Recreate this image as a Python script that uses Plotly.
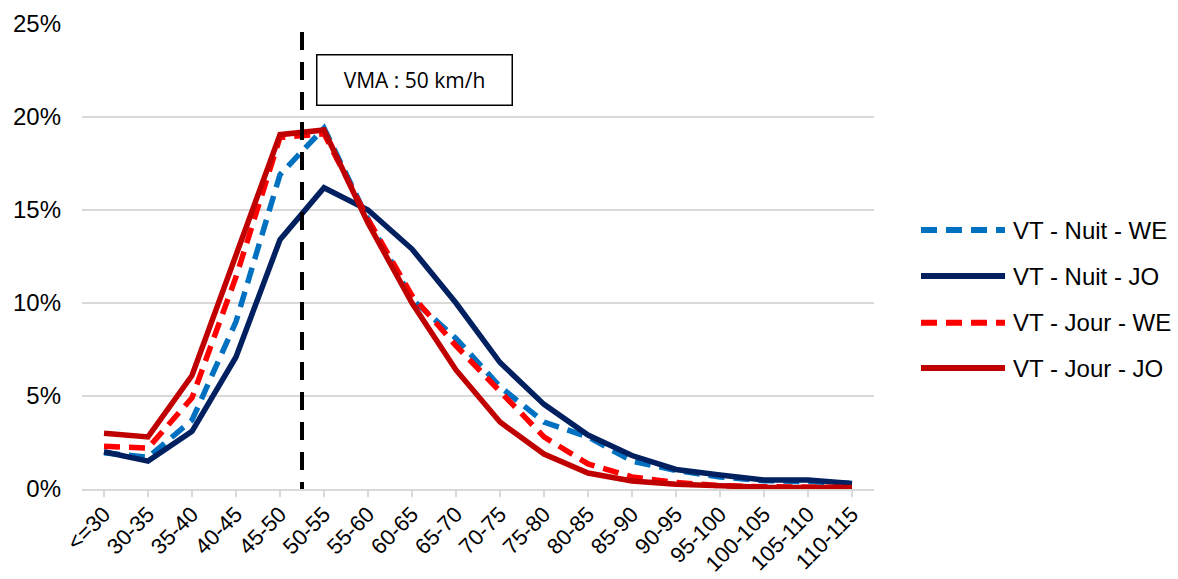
import plotly.graph_objects as go

# Speed classes (km/h)
categories = ["<=30", "30-35", "35-40", "40-45", "45-50", "50-55", "55-60", "60-65",
              "65-70", "70-75", "75-80", "80-85", "85-90", "90-95", "95-100",
              "100-105", "105-110", "110-115"]

# Share of vehicles per speed class (%)
nuit_we = [1.95, 1.7, 3.7, 9.0, 16.9, 19.4, 14.5, 10.2, 8.1, 5.5, 3.6, 2.8, 1.5, 1.0, 0.65, 0.45, 0.4, 0.3]
nuit_jo = [2.0, 1.5, 3.1, 7.1, 13.4, 16.2, 15.0, 12.9, 10.0, 6.8, 4.55, 2.9, 1.8, 1.05, 0.75, 0.48, 0.48, 0.3]
jour_we = [2.3, 2.2, 4.9, 11.4, 18.9, 19.1, 14.5, 10.4, 7.7, 5.2, 2.8, 1.35, 0.65, 0.35, 0.18, 0.12, 0.1, 0.08]
jour_jo = [3.0, 2.8, 6.1, 12.6, 19.05, 19.3, 14.3, 10.0, 6.4, 3.6, 1.88, 0.86, 0.43, 0.25, 0.15, 0.1, 0.08, 0.08]

series_names = ["VT - Nuit - WE", "VT - Nuit - JO", "VT - Jour - WE", "VT - Jour - JO"]
series_values = [nuit_we, nuit_jo, jour_we, jour_jo]
series_colors = ["#0070C0", "#002060", "#FF0000", "#C00000"]
series_dash = ["16px,9px", "solid", "16px,9px", "solid"]

y_ticks = [0, 5, 10, 15, 20, 25]
speed_limit_label = "VMA : 50 km/h"

W, H = 1178, 579
L, R, T, B = 82, 304, 24, 90
plot_w, plot_h = W - L - R, H - T - B


def px_x(p):
    return (p - L) / plot_w


def px_y(p):
    return (H - B - p) / plot_h


fig = go.Figure()
x_idx = list(range(len(categories)))
for name, vals, col, dash in zip(series_names, series_values, series_colors, series_dash):
    fig.add_trace(go.Scatter(
        x=x_idx, y=vals, name=name, mode="lines",
        line=dict(color=col, width=5.5, dash=dash),
        showlegend=False, hoverinfo="skip",
    ))

shapes = []
annotations = []

# speed limit marker between 45-50 and 50-55 (drawn top-down so the dash starts at the top)
shapes.append(dict(type="line", xref="x", yref="paper", x0=4.5, x1=4.5, y0=px_y(32), y1=0,
                   line=dict(color="black", width=4, dash="18px,12px"), layer="above"))
annotations.append(dict(
    xref="paper", yref="paper", x=px_x(414.5), y=px_y(80.5), xanchor="center", yanchor="middle",
    text=speed_limit_label, showarrow=False,
    font=dict(family="Open Sans", size=21, color="black"),
    bordercolor="black", borderwidth=1.5, bgcolor="white",
    width=192, height=47,
))

# legend drawn beside the plot
leg_y = [230, 276, 322.7, 368]
for name, col, dash, yy in zip(series_names, series_colors, series_dash, leg_y):
    shapes.append(dict(type="line", xref="paper", yref="paper",
                       x0=px_x(921), x1=px_x(1005), y0=px_y(yy), y1=px_y(yy),
                       line=dict(color=col, width=6, dash=dash)))
    annotations.append(dict(xref="paper", yref="paper", x=px_x(1011), y=px_y(yy),
                            xanchor="left", yanchor="middle", text=name, showarrow=False,
                            font=dict(family="Liberation Sans", size=24, color="black")))

fig.update_layout(
    width=W, height=H,
    margin=dict(l=L, r=R, t=T, b=B, pad=0),
    paper_bgcolor="white", plot_bgcolor="white",
    shapes=shapes, annotations=annotations,
    font=dict(family="Liberation Sans", size=24, color="black"),
    xaxis=dict(
        range=[-0.5, len(categories) - 0.5],
        tickmode="array", tickvals=x_idx, ticktext=categories,
        tickangle=-45, tickson="boundaries", ticks="outside", ticklen=6,
        tickcolor="#D9D9D9", tickwidth=1.5,
        showline=True, linecolor="#D9D9D9", linewidth=1.5,
        showgrid=False, zeroline=False, automargin=False,
        ticklabelstandoff=-4,
        tickfont=dict(family="Liberation Sans", size=22, color="black"),
    ),
    yaxis=dict(
        range=[0, 25], tickmode="array", tickvals=y_ticks,
        ticktext=[f"{v}%" for v in y_ticks],
        showgrid=True, gridcolor="#D9D9D9", gridwidth=1.5,
        zeroline=False, showline=False, ticks="", automargin=False,
        ticklabelstandoff=20,
        tickfont=dict(family="Liberation Sans", size=24, color="black"),
    ),
)

fig.write_html("out.html")
